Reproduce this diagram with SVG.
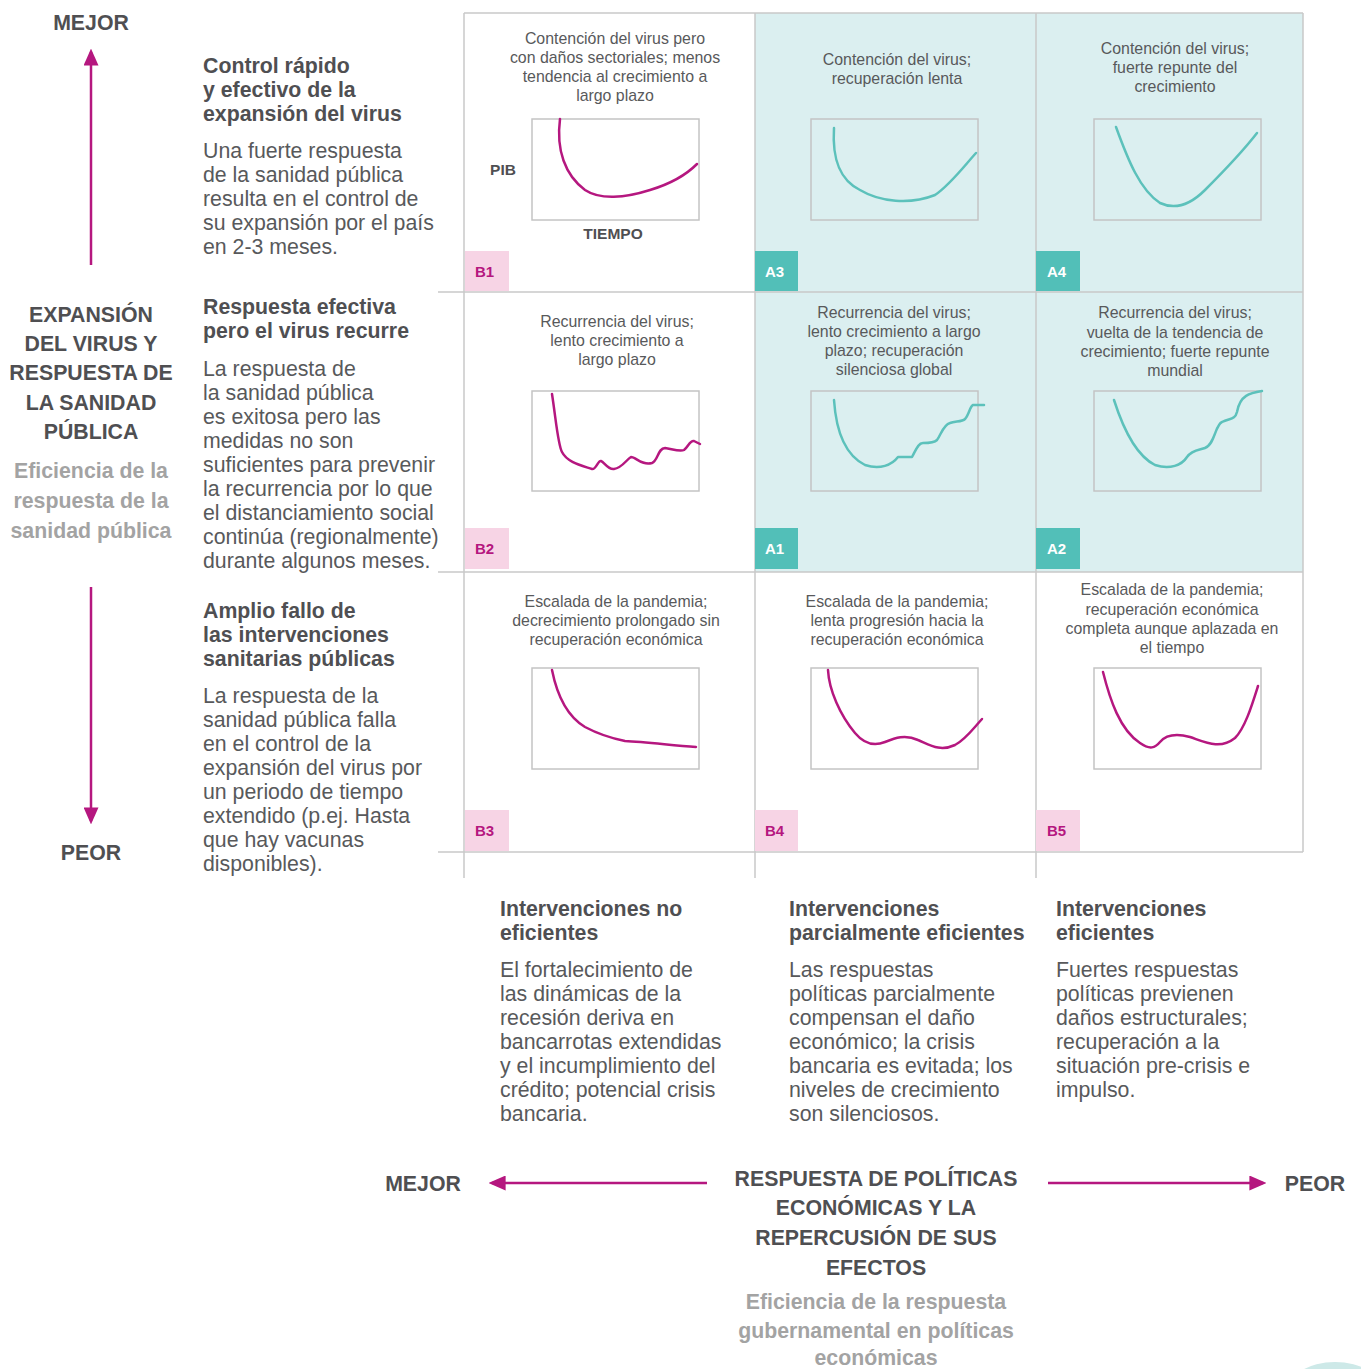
<svg xmlns="http://www.w3.org/2000/svg" width="1361" height="1369" viewBox="0 0 1361 1369">
<style>
text{font-family:"Liberation Sans",Arial,Helvetica,sans-serif;}
.cap{font-size:15.9px;fill:#58595b;text-anchor:middle;}
.lab{font-size:15px;font-weight:bold;}
.lb{fill:#b5177f;}
.la{fill:#ffffff;}
.pbox{fill:#f7d4e5;}
.abox{fill:#52bfb8;}
.chart{fill:none;stroke:#c4c4c4;stroke-width:1.5;}
.cm{fill:none;stroke:#b5177f;stroke-width:2.5;stroke-linecap:round;stroke-linejoin:round;}
.ct{fill:none;stroke:#5cc1bb;stroke-width:2.5;stroke-linecap:round;stroke-linejoin:round;}
.grid{stroke:#c8c8c8;stroke-width:1.5;fill:none;}
.h{font-size:21.3px;font-weight:bold;fill:#4f4f52;}
.b{font-size:21.3px;fill:#58595b;}
.ax{font-size:21.3px;font-weight:bold;fill:#4f4f52;text-anchor:middle;}
.axg{font-size:21.3px;font-weight:bold;fill:#a3a3a3;text-anchor:middle;}
.arr{stroke:#b5177f;stroke-width:2.5;fill:none;}
.tk{font-size:15.5px;font-weight:bold;fill:#4f4f52;text-anchor:middle;}
</style>
<defs>
<marker id="ah" viewBox="0 0 10 10" refX="8" refY="5" markerWidth="17" markerHeight="15" markerUnits="userSpaceOnUse" orient="auto" preserveAspectRatio="none">
<path d="M0,0 L10,5 L0,10 z" fill="#b5177f"/>
</marker>
</defs>
<rect width="1361" height="1369" fill="#ffffff"/>

<rect x="755" y="13" width="548" height="559" fill="#dbeff0"/>

<g id="grid">
<line class="grid" x1="464" y1="13" x2="1303" y2="13"/>
<line class="grid" x1="438" y1="292" x2="1303" y2="292"/>
<line class="grid" x1="438" y1="572" x2="1303" y2="572"/>
<line class="grid" x1="438" y1="852" x2="1303" y2="852"/>
<line class="grid" x1="464" y1="13" x2="464" y2="878"/>
<line class="grid" x1="755" y1="13" x2="755" y2="878"/>
<line class="grid" x1="1036" y1="13" x2="1036" y2="878"/>
<line class="grid" x1="1303" y1="13" x2="1303" y2="852"/>
</g>

<g id="B1">
<text class="cap" x="615" y="44">Contención del virus pero</text>
<text class="cap" x="615" y="63">con daños sectoriales; menos</text>
<text class="cap" x="615" y="82">tendencia al crecimiento a</text>
<text class="cap" x="615" y="101">largo plazo</text>
<rect class="chart" x="532" y="119" width="167" height="101"/>
<path class="cm" d="M560,119 C556,150 565,175 585,190 C600,200 625,198 650,190 C670,184 685,176 697,164"/>
<text class="tk" x="503" y="175">PIB</text>
<text class="tk" x="613" y="239">TIEMPO</text>
<rect class="pbox" x="465" y="251" width="44" height="40"/>
<text class="lab lb" x="475" y="277">B1</text>
</g>

<g id="A3">
<text class="cap" x="897" y="65">Contención del virus;</text>
<text class="cap" x="897" y="84">recuperación lenta</text>
<rect class="chart" x="811" y="119" width="167" height="101"/>
<path class="ct" d="M834,128 C832,160 840,180 860,190 C880,202 910,205 935,195 C950,185 965,165 976,153"/>
<rect class="abox" x="755" y="251" width="43" height="40"/>
<text class="lab la" x="765" y="277">A3</text>
</g>

<g id="A4">
<text class="cap" x="1175" y="54">Contención del virus;</text>
<text class="cap" x="1175" y="73">fuerte repunte del</text>
<text class="cap" x="1175" y="92">crecimiento</text>
<rect class="chart" x="1094" y="119" width="167" height="101"/>
<path class="ct" d="M1116,127 C1128,160 1140,190 1160,203 C1175,210 1190,205 1205,190 C1220,175 1240,155 1257,133"/>
<rect class="abox" x="1036" y="251" width="44" height="40"/>
<text class="lab la" x="1047" y="277">A4</text>
</g>

<g id="B2">
<text class="cap" x="617" y="327">Recurrencia del virus;</text>
<text class="cap" x="617" y="346">lento crecimiento a</text>
<text class="cap" x="617" y="365">largo plazo</text>
<rect class="chart" x="532" y="391" width="167" height="100"/>
<path class="cm" d="M552,394 C556,420 558,445 562,452 C567,462 580,465 592,469 C596,470 598,460 601,461 C604,462 608,470 614,469 C622,468 626,460 631,457 C636,457 642,466 652,463 C658,461 658,448 665,448 C672,449 680,452 684,450 C688,447 690,440 694,441 C696,442 698,443 700,444"/>
<rect class="pbox" x="465" y="528" width="44" height="41"/>
<text class="lab lb" x="475" y="554">B2</text>
</g>

<g id="A1">
<text class="cap" x="894" y="318">Recurrencia del virus;</text>
<text class="cap" x="894" y="337">lento crecimiento a largo</text>
<text class="cap" x="894" y="356">plazo; recuperación</text>
<text class="cap" x="894" y="375">silenciosa global</text>
<rect class="chart" x="811" y="391" width="167" height="100"/>
<path class="ct" d="M834,400 C836,430 845,455 865,465 C880,470 892,465 898,457 L912,457 C916,450 918,443 923,443 C928,443 934,443 937,440 C941,435 943,425 950,423 C955,421 962,422 965,419 C969,415 970,406 973,405 L984,405"/>
<rect class="abox" x="755" y="528" width="43" height="41"/>
<text class="lab la" x="765" y="554">A1</text>
</g>

<g id="A2">
<text class="cap" x="1175" y="318">Recurrencia del virus;</text>
<text class="cap" x="1175" y="338">vuelta de la tendencia de</text>
<text class="cap" x="1175" y="357">crecimiento; fuerte repunte</text>
<text class="cap" x="1175" y="376">mundial</text>
<rect class="chart" x="1094" y="391" width="167" height="100"/>
<path class="ct" d="M1114,400 C1122,425 1135,455 1155,465 C1170,470 1182,465 1187,457 C1192,450 1200,450 1205,448 C1215,444 1215,425 1222,422 C1230,418 1235,420 1237,412 C1240,395 1250,393 1262,391"/>
<rect class="abox" x="1036" y="528" width="44" height="41"/>
<text class="lab la" x="1047" y="554">A2</text>
</g>

<g id="B3">
<text class="cap" x="616" y="607">Escalada de la pandemia;</text>
<text class="cap" x="616" y="626">decrecimiento prolongado sin</text>
<text class="cap" x="616" y="645">recuperación económica</text>
<rect class="chart" x="532" y="668" width="167" height="101"/>
<path class="cm" d="M552,670 C556,690 565,715 585,727 C600,735 610,738 625,741 C645,742 670,745 696,747"/>
<rect class="pbox" x="465" y="810" width="44" height="41"/>
<text class="lab lb" x="475" y="836">B3</text>
</g>

<g id="B4">
<text class="cap" x="897" y="607">Escalada de la pandemia;</text>
<text class="cap" x="897" y="626">lenta progresión hacia la</text>
<text class="cap" x="897" y="645">recuperación económica</text>
<rect class="chart" x="811" y="668" width="167" height="101"/>
<path class="cm" d="M828,670 C829,690 840,715 855,733 C865,745 875,746 885,742 C895,738 905,734 918,740 C930,745 940,752 955,745 C965,740 972,730 982,719"/>
<rect class="pbox" x="755" y="810" width="43" height="41"/>
<text class="lab lb" x="765" y="836">B4</text>
</g>

<g id="B5">
<text class="cap" x="1172" y="595">Escalada de la pandemia;</text>
<text class="cap" x="1172" y="615">recuperación económica</text>
<text class="cap" x="1172" y="634">completa aunque aplazada en</text>
<text class="cap" x="1172" y="653">el tiempo</text>
<rect class="chart" x="1094" y="668" width="167" height="101"/>
<path class="cm" d="M1103,672 C1110,700 1120,730 1140,743 C1150,750 1155,748 1160,742 C1166,735 1175,733 1190,737 C1205,742 1220,750 1235,738 C1245,728 1252,705 1258,686"/>
<rect class="pbox" x="1036" y="810" width="44" height="41"/>
<text class="lab lb" x="1047" y="836">B5</text>
</g>

<g id="connectors">
<line class="arr" x1="91" y1="265" x2="91" y2="52" marker-end="url(#ah)"/>
<line class="arr" x1="91" y1="587" x2="91" y2="821" marker-end="url(#ah)"/>
<line class="arr" x1="707" y1="1183" x2="492" y2="1183" marker-end="url(#ah)"/>
<line class="arr" x1="1048" y1="1183" x2="1263" y2="1183" marker-end="url(#ah)"/>
</g>

<g id="left-axis">
<text class="ax" x="91" y="30">MEJOR</text>
<text class="ax" x="91" y="322">EXPANSIÓN</text>
<text class="ax" x="91" y="351">DEL VIRUS Y</text>
<text class="ax" x="91" y="380">RESPUESTA DE</text>
<text class="ax" x="91" y="410">LA SANIDAD</text>
<text class="ax" x="91" y="439">PÚBLICA</text>
<text class="axg" x="91" y="478">Eficiencia de la</text>
<text class="axg" x="91" y="508">respuesta de la</text>
<text class="axg" x="91" y="538">sanidad pública</text>
<text class="ax" x="91" y="860">PEOR</text>
</g>

<g id="row-desc-1">
<text class="h" x="203" y="73">Control rápido</text>
<text class="h" x="203" y="97">y efectivo de la</text>
<text class="h" x="203" y="121">expansión del virus</text>
<text class="b" x="203" y="158">Una fuerte respuesta</text>
<text class="b" x="203" y="182">de la sanidad pública</text>
<text class="b" x="203" y="206">resulta en el control de</text>
<text class="b" x="203" y="230">su expansión por el país</text>
<text class="b" x="203" y="254">en 2-3 meses.</text>
</g>

<g id="row-desc-2">
<text class="h" x="203" y="314">Respuesta efectiva</text>
<text class="h" x="203" y="338">pero el virus recurre</text>
<text class="b" x="203" y="376">La respuesta de</text>
<text class="b" x="203" y="400">la sanidad pública</text>
<text class="b" x="203" y="424">es exitosa pero las</text>
<text class="b" x="203" y="448">medidas no son</text>
<text class="b" x="203" y="472">suficientes para prevenir</text>
<text class="b" x="203" y="496">la recurrencia por lo que</text>
<text class="b" x="203" y="520">el distanciamiento social</text>
<text class="b" x="203" y="544">continúa (regionalmente)</text>
<text class="b" x="203" y="568">durante algunos meses.</text>
</g>

<g id="row-desc-3">
<text class="h" x="203" y="618">Amplio fallo de</text>
<text class="h" x="203" y="642">las intervenciones</text>
<text class="h" x="203" y="666">sanitarias públicas</text>
<text class="b" x="203" y="703">La respuesta de la</text>
<text class="b" x="203" y="727">sanidad pública falla</text>
<text class="b" x="203" y="751">en el control de la</text>
<text class="b" x="203" y="775">expansión del virus por</text>
<text class="b" x="203" y="799">un periodo de tiempo</text>
<text class="b" x="203" y="823">extendido (p.ej. Hasta</text>
<text class="b" x="203" y="847">que hay vacunas</text>
<text class="b" x="203" y="871">disponibles).</text>
</g>

<g id="col-desc-1">
<text class="h" x="500" y="916">Intervenciones no</text>
<text class="h" x="500" y="940">eficientes</text>
<text class="b" x="500" y="977">El fortalecimiento de</text>
<text class="b" x="500" y="1001">las dinámicas de la</text>
<text class="b" x="500" y="1025">recesión deriva en</text>
<text class="b" x="500" y="1049">bancarrotas extendidas</text>
<text class="b" x="500" y="1073">y el incumplimiento del</text>
<text class="b" x="500" y="1097">crédito; potencial crisis</text>
<text class="b" x="500" y="1121">bancaria.</text>
</g>

<g id="col-desc-2">
<text class="h" x="789" y="916">Intervenciones</text>
<text class="h" x="789" y="940">parcialmente eficientes</text>
<text class="b" x="789" y="977">Las respuestas</text>
<text class="b" x="789" y="1001">políticas parcialmente</text>
<text class="b" x="789" y="1025">compensan el daño</text>
<text class="b" x="789" y="1049">económico; la crisis</text>
<text class="b" x="789" y="1073">bancaria es evitada; los</text>
<text class="b" x="789" y="1097">niveles de crecimiento</text>
<text class="b" x="789" y="1121">son silenciosos.</text>
</g>

<g id="col-desc-3">
<text class="h" x="1056" y="916">Intervenciones</text>
<text class="h" x="1056" y="940">eficientes</text>
<text class="b" x="1056" y="977">Fuertes respuestas</text>
<text class="b" x="1056" y="1001">políticas previenen</text>
<text class="b" x="1056" y="1025">daños estructurales;</text>
<text class="b" x="1056" y="1049">recuperación a la</text>
<text class="b" x="1056" y="1073">situación pre-crisis e</text>
<text class="b" x="1056" y="1097">impulso.</text>
</g>

<g id="bottom-axis">
<text class="ax" x="423" y="1191">MEJOR</text>
<text class="ax" x="1315" y="1191">PEOR</text>
<text class="ax" x="876" y="1186">RESPUESTA DE POLÍTICAS</text>
<text class="ax" x="876" y="1215">ECONÓMICAS Y LA</text>
<text class="ax" x="876" y="1245">REPERCUSIÓN DE SUS</text>
<text class="ax" x="876" y="1275">EFECTOS</text>
<text class="axg" x="876" y="1309">Eficiencia de la respuesta</text>
<text class="axg" x="876" y="1338">gubernamental en políticas</text>
<text class="axg" x="876" y="1365">económicas</text>
</g>

<ellipse cx="1335" cy="1392" rx="48" ry="30" fill="#cde9e8"/>
</svg>
